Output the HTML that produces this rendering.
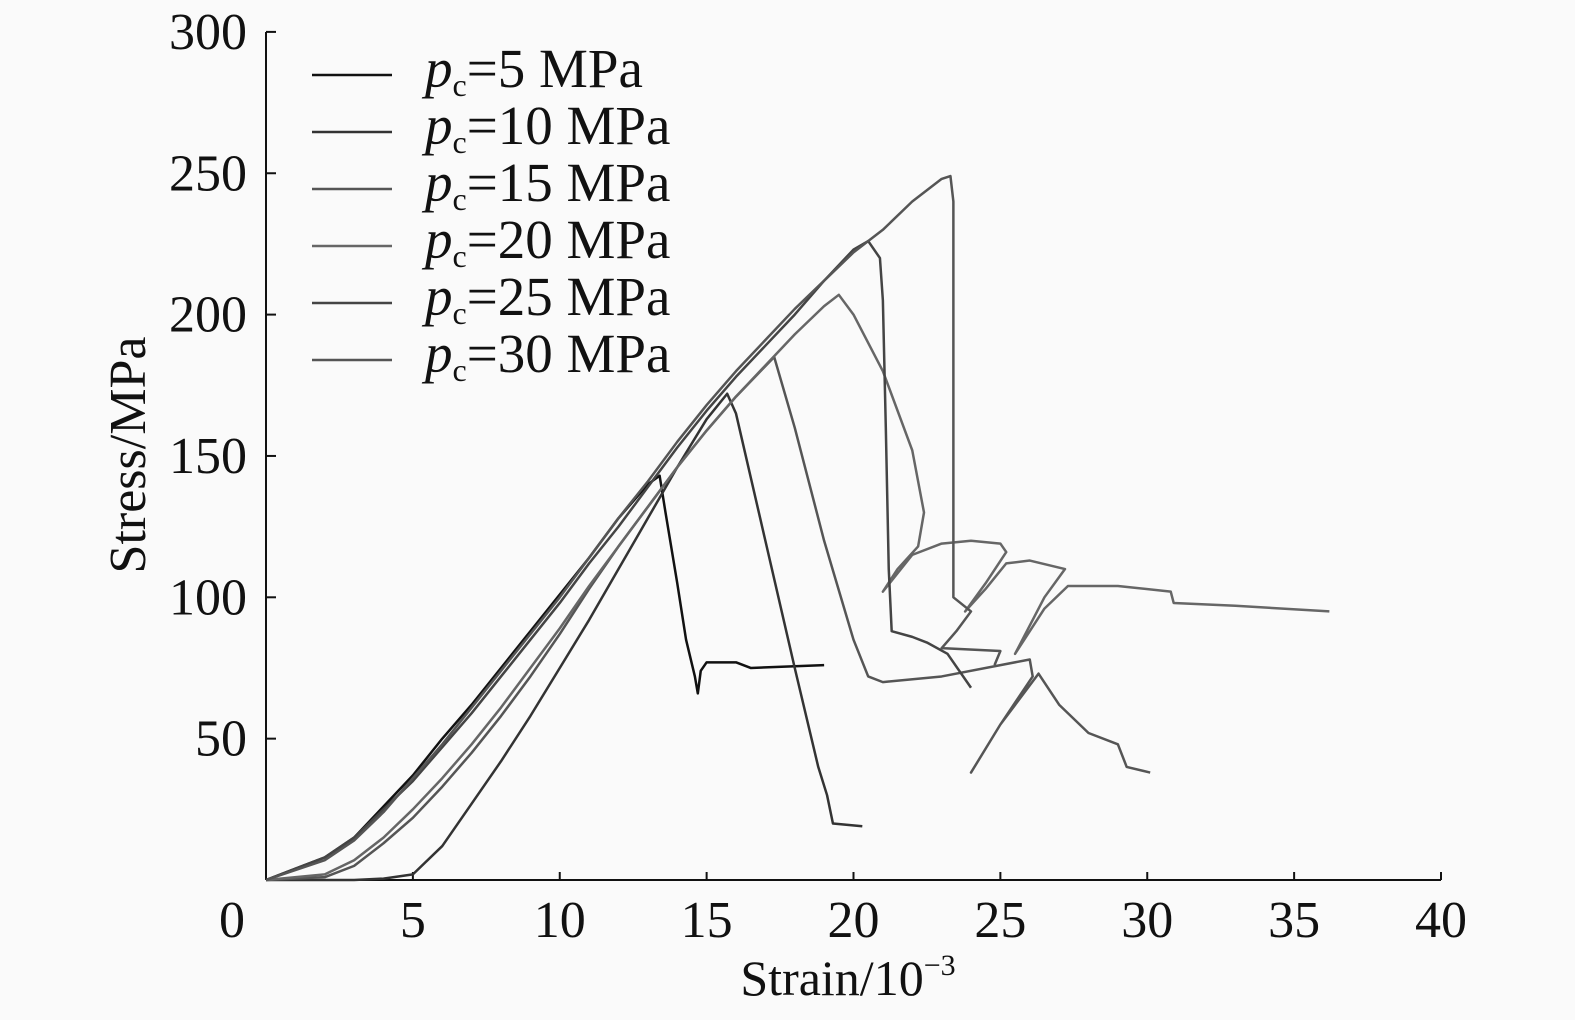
<!DOCTYPE html>
<html><head><meta charset="utf-8"><style>
body{margin:0;background:#fafafa;}
svg{display:block;font-family:"Liberation Serif",serif;}
</style></head><body>
<svg id="chart" width="1575" height="1020" viewBox="0 0 1575 1020">
<rect width="1575" height="1020" fill="#fafafa"/>
<g id="axes"></g>
<g id="series"></g>
<g id="legend"></g>
</svg>
<script>
const xTicks=[0,5,10,15,20,25,30,35,40];
const yTicks=[50,100,150,200,250,300];
const seriesNames=["5 MPa","10 MPa","15 MPa","20 MPa","25 MPa","30 MPa"];
const seriesColors=["#111","#333","#555","#666","#444","#555"];
const s5=[[0,0],[1,4],[2,8],[3,15],[4,26],[5,37],[6,50],[7,62],[8,75],[9,88],[10,101],[11,114],[12,128],[13,140],[13.4,143],[13.6,130],[14,105],[14.3,85],[14.6,72],[14.7,66],[14.8,74],[15,77],[16,77],[16.5,75],[19,76]];
const s10=[[0,0],[3,0],[4,0.5],[5,2],[6,12],[7,27],[8,42],[9,58],[10,75],[11,92],[12,110],[13,128],[14,146],[15,163],[15.7,172],[16,165],[17,120],[18,75],[18.8,40],[19.1,30],[19.3,20],[20.3,19]];
const s15=[[0,0],[2,1],[3,5],[4,13],[5,22],[6,33],[7,45],[8,58],[9,72],[10,87],[11,103],[12,118],[13,132],[14,146],[15,159],[16,171],[17.3,185],[18,160],[19,120],[20,85],[20.5,72],[21,70],[23,72],[26,78],[26.1,72],[25,55],[24,38],[25,55],[26.3,73],[27,62],[28,52],[29,48],[29.3,40],[30.1,38]];
const s20=[[0,0],[2,2],[3,7],[4,15],[5,25],[6,36],[7,48],[8,61],[9,75],[10,89],[11,104],[12,118],[13,132],[14,146],[15,159],[16,171],[17,182],[18,193],[19,203],[19.5,207],[20,200],[21,180],[22,152],[22.4,130],[22.2,118],[21.5,110],[21,102],[22,115],[23,119],[24,120],[25,119],[25.2,116],[24.5,105],[23.8,95],[24.5,103],[25.2,112],[26,113],[27.2,110],[26.5,100],[25.5,80],[26.5,96],[27.3,104],[29,104],[30.8,102],[30.9,98],[33,97],[36.2,95]];
const s25=[[0,0],[1,4],[2,8],[3,15],[4,25],[5,35],[6,47],[7,59],[8,72],[9,85],[10,98],[11,112],[12,125],[13,139],[14,153],[15,166],[16,178],[17,189],[18,200],[19,212],[20,223],[20.5,226],[20.9,220],[21,205],[21.1,160],[21.2,110],[21.3,88],[22,86],[22.5,84],[23.2,80],[24,68]];
const s30=[[0,0],[2,7],[3,14],[4,24],[5,36],[6,48],[7,61],[8,74],[9,87],[10,100],[11,114],[12,128],[13,141],[14,155],[15,168],[16,180],[17,191],[18,202],[19,212],[20,222],[21,230],[22,240],[23,248],[23.3,249],[23.4,240],[23.4,100],[24,95],[23.5,88],[23,82],[25,81],[24.8,76]];
const seriesData=[s5,s10,s15,s20,s25,s30];
const NS="http://www.w3.org/2000/svg";
const X=v=>266+v*29.375, Y=v=>880-v*2.827;
function mk(t,a,p){const e=document.createElementNS(NS,t);for(const k in a)e.setAttribute(k,a[k]);p.appendChild(e);return e;}
const ax=document.getElementById('axes');
let l=mk('line',{x1:266,y1:880,x2:1441,y2:880,stroke:'#111','stroke-width':2},ax);


l=mk('line',{x1:266,y1:32,x2:266,y2:880,stroke:'#111','stroke-width':2},ax);


xTicks.forEach(t=>{
 mk('line',{x1:X(t),y1:880,x2:X(t),y2:872,stroke:'#111','stroke-width':2},ax);
 const tx=mk('text',{x:t===0?232:X(t),y:937,'text-anchor':'middle','font-size':52,fill:'#111'},ax);
 tx.textContent=t;
 
 
});
yTicks.forEach(t=>{
 mk('line',{x1:266,y1:Y(t),x2:276,y2:Y(t),stroke:'#111','stroke-width':2},ax);
 const tx=mk('text',{x:247,y:Y(t)+17,'text-anchor':'end','font-size':52,fill:'#111'},ax);
 tx.textContent=t;
 
 
});
let xt=mk('text',{x:848,y:995,'text-anchor':'middle','font-size':50,fill:'#111'},ax);
xt.innerHTML='Strain/10<tspan dy="-20" font-size="30">−3</tspan>';


let yt=mk('text',{x:0,y:0,'text-anchor':'middle','font-size':52,fill:'#111',transform:'translate(145,455) rotate(-90)'},ax);
yt.textContent='Stress/MPa';


const sg=document.getElementById('series');
seriesData.forEach((d,i)=>{
 const p=mk('polyline',{points:d.map(q=>X(q[0])+','+Y(q[1])).join(' '),fill:'none',stroke:seriesColors[i],'stroke-width':2.5,'stroke-linejoin':'round'},sg);
 
 
});
const lg=document.getElementById('legend');
seriesNames.forEach((n,i)=>{
 const y=75+i*57;
 const g=mk('g',{},lg);
 
 
 mk('line',{x1:312,y1:y,x2:392,y2:y,stroke:seriesColors[i],'stroke-width':2.5},g);
 const t=mk('text',{x:425,y:y+12,'font-size':55,fill:'#111'},g);
 t.innerHTML='<tspan font-style="italic">p</tspan><tspan font-size="32" dy="9">c</tspan><tspan dy="-9">='+n+'</tspan>';
});
</script>
</body></html>
